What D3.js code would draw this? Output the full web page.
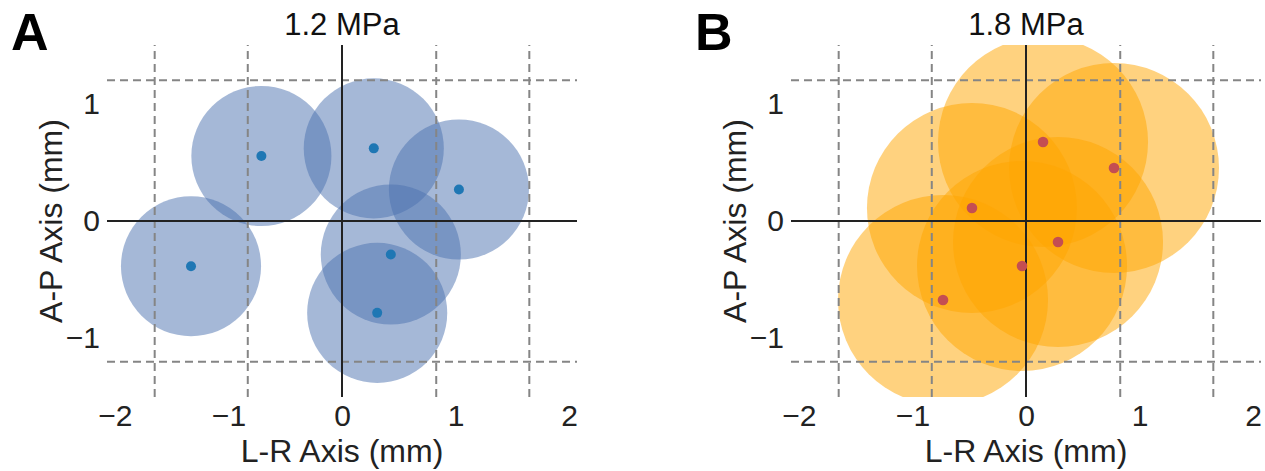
<!DOCTYPE html>
<html>
<head>
<meta charset="utf-8">
<script src="https://cdn.jsdelivr.net/npm/d3@7"></script>
<style>
  body { margin: 0; background: #fff; }
  svg { display: block; font-family: "Liberation Sans", Arial, sans-serif; }
</style>
</head>
<body>
<svg id="chart" width="1265" height="471"></svg>
<script>
// tick values and reference grid (mm)
var xTicks = [-2, -1, 0, 1, 2];
var yTicks = [-1, 0, 1];
var gridX = [-1.65, -0.83, 0.83, 1.65];
var gridY = [-1.2, 1.2];

// 1.2 MPa focal spots (centre in mm)
var lowX = [-1.33, -0.71, 0.28, 1.03, 0.43, 0.31];
var lowY = [-0.385, 0.554, 0.619, 0.269, -0.286, -0.783];
var lowRadius = 0.617;

// 1.8 MPa focal spots
var highX = [0.15, 0.775, -0.476, 0.282, -0.035, -0.731];
var highY = [0.673, 0.452, 0.111, -0.179, -0.384, -0.673];
var highRadius = 0.925;

var svg = d3.select('#chart');

function drawPanel(opts) {
    var x = d3.scaleLinear().domain([-2.07, 2.07]).range([opts.left, opts.left + 470]);
    var y = d3.scaleLinear().domain([-1.5, 1.5]).range([397, 45]);
    var g = svg.append('g');

    g.append('clipPath').attr('id', opts.id + '-clip')
      .append('rect')
        .attr('x', x.range()[0]).attr('y', y.range()[1])
        .attr('width', x.range()[1] - x.range()[0])
        .attr('height', y.range()[0] - y.range()[1]);

    var pts = opts.xs.map(function(v, i) { return {x: v, y: opts.ys[i]}; });
    var rPx = x(opts.radius) - x(0);

    // spots
    g.append('g').attr('clip-path', 'url(#' + opts.id + '-clip)')
      .selectAll('circle')
      .data(pts)
      .enter().append('circle')
        .attr('cx', d => x(d.x))
        .attr('cy', d => y(d.y))
        .attr('r', rPx)
        .attr('fill', opts.fill)
        .attr('fill-opacity', 0.5);

    // dashed guides
    g.selectAll('.gx').data(gridX).enter().append('line')
        .attr('x1', d => x(d)).attr('x2', d => x(d))
        .attr('y1', y.range()[0]).attr('y2', y.range()[1])
        .attr('stroke', '#858585').attr('stroke-width', 2)
        .attr('stroke-dasharray', '8,5');
    g.selectAll('.gy').data(gridY).enter().append('line')
        .attr('y1', d => y(d)).attr('y2', d => y(d))
        .attr('x1', x.range()[0]).attr('x2', x.range()[1])
        .attr('stroke', '#858585').attr('stroke-width', 2)
        .attr('stroke-dasharray', '8,5');

    // zero lines
    g.append('line')
        .attr('x1', x(0)).attr('x2', x(0))
        .attr('y1', y.range()[0]).attr('y2', y.range()[1])
        .attr('stroke', '#222').attr('stroke-width', 2);
    g.append('line')
        .attr('x1', x.range()[0]).attr('x2', x.range()[1])
        .attr('y1', y(0)).attr('y2', y(0))
        .attr('stroke', '#222').attr('stroke-width', 2);

    // centre dots
    g.append('g').selectAll('circle')
      .data(pts)
      .enter().append('circle')
        .attr('cx', d => x(d.x))
        .attr('cy', d => y(d.y))
        .attr('r', opts.dotR)
        .attr('fill', opts.dot);

    // axes (labels only)
    var xa = g.append('g').attr('transform', 'translate(0,397)')
        .call(d3.axisBottom(x).tickValues(xTicks).tickFormat(d3.format('d')).tickSize(0).tickPadding(8));
    var ya = g.append('g').attr('transform', 'translate(' + x.range()[0] + ',0)')
        .call(d3.axisLeft(y).tickValues(yTicks).tickFormat(d3.format('d')).tickSize(0).tickPadding(7));
    [xa, ya].forEach(function(a) {
        a.select('.domain').remove();
        a.selectAll('text').style('font-size', '30px').attr('fill', '#222')
          .style('font-family', '"Liberation Sans", Arial, sans-serif');
    });

    g.append('text')
        .attr('x', x(0)).attr('y', 462)
        .attr('text-anchor', 'middle')
        .style('font-size', '32px').attr('fill', '#222')
        .text('L-R Axis (mm)');
    g.append('text')
        .attr('transform', 'translate(' + (x.range()[0] - 45) + ',' + y(0) + ')rotate(-90)')
        .attr('text-anchor', 'middle')
        .style('font-size', '32px').attr('fill', '#222')
        .text('A-P Axis (mm)');

    g.append('text')
        .attr('x', x(0)).attr('y', 35)
        .attr('text-anchor', 'middle')
        .style('font-size', '31px').attr('fill', '#111')
        .text(opts.title);
    g.append('text')
        .attr('x', opts.left - 96).attr('y', 50)
        .style('font-size', '52px').style('font-weight', 'bold').attr('fill', '#000')
        .text(opts.letter);
}

drawPanel({id: 'a', left: 107, xs: lowX, ys: lowY, radius: lowRadius,
           fill: '#4c72b0', dot: '#1f77b4', dotR: 5, title: '1.2 MPa', letter: 'A'});
drawPanel({id: 'b', left: 791, xs: highX, ys: highY, radius: highRadius,
           fill: '#ffa500', dot: '#c44e52', dotR: 5.3, title: '1.8 MPa', letter: 'B'});
</script>
</body>
</html>
